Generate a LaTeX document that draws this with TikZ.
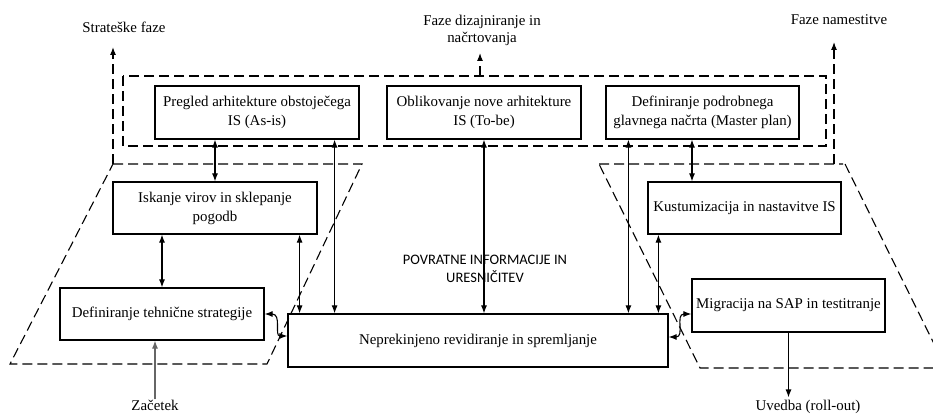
\documentclass[tikz,border=0pt]{standalone}
\usepackage{fontspec}
\setmainfont{Liberation Serif}
\newfontfamily\calib{Carlito}
\usetikzlibrary{arrows.meta}
\tikzset{
  box/.style={draw, line width=1.2pt, rectangle, align=center, inner sep=2pt,
    font=\fontsize{14.9}{19}\selectfont},
  lbl/.style={align=center, inner sep=1pt, font=\fontsize{14.9}{17}\selectfont},
  zone/.style={draw, line width=1.1pt, dash pattern=on 10pt off 5pt},
  conn/.style={line width=1.1pt, {Latex[length=8pt,width=6pt]}-{Latex[length=8pt,width=6pt]}},
  oneway/.style={line width=1.1pt, -{Latex[length=8pt,width=6pt]}},
  upway/.style={line width=1.1pt, dash pattern=on 10pt off 5pt, -{Latex[length=8pt,width=6pt]}}
}
\begin{document}
\begin{tikzpicture}[x=1pt,y=-1pt]
\useasboundingbox (0,0) rectangle (933,414);
% dashed zones
\draw[zone] (123,76) rectangle (826,146);
\draw[zone] (113,164) -- (362,164) -- (267,364) -- (10,364) -- cycle;
\begin{scope}
\clip (0,0) rectangle (933,414);
\draw[zone] (599,164) -- (843,164) (845,164) -- (946,368) -- (700,368) -- (599,164);
\end{scope}
% boxes
\node[box, minimum width=204pt, minimum height=53pt] (pregled) at (257,112.5) {Pregled arhitekture obstoječega\\IS (As-is)};
\node[box, minimum width=194pt, minimum height=53pt] (oblik) at (484,112.5) {Oblikovanje nove arhitekture\\IS (To-be)};
\node[box, minimum width=193pt, minimum height=53pt] (defpod) at (702.5,112.5) {Definiranje podrobnega\\glavnega načrta (Master plan)};
\node[box, minimum width=204pt, minimum height=52pt] (iskanje) at (215,208) {Iskanje virov in sklepanje\\pogodb};
\node[box, minimum width=204pt, minimum height=52pt] (deftech) at (162,314) {Definiranje tehnične strategije};
\node[box, minimum width=380pt, minimum height=53pt] (nep) at (478,340.5) {Neprekinjeno revidiranje in spremljanje};
\node[box, minimum width=193pt, minimum height=52pt] (kust) at (744.5,208) {Kustumizacija in nastavitve IS};
\node[box, minimum width=193pt, minimum height=53pt] (mig) at (788.5,305.5) {Migracija na SAP in testitranje};
% labels
\node[lbl] (strat) at (124,27) {Strateške faze};
\node[lbl] (dizaj) at (482,30) {Faze dizajniranje in\\načrtovanja};
\node[lbl] (namest) at (839,20) {Faze namestitve};
\node[lbl, anchor=base, inner sep=0pt] (zacetek) at (155,410) {Začetek};
\node[lbl, anchor=base, inner sep=0pt] (uvedba) at (808,410) {Uvedba (roll-out)};
\node[align=center, inner sep=0pt, font=\calib\fontsize{14.5}{17.5}\selectfont] (povr) at (485,269) {POVRATNE INFORMACIJE IN\\URESNIČITEV};
% phase arrows
\coordinate (stratS) at (113,164);
\coordinate (stratE) at (113,47);
\coordinate (dizajS) at (480,76);
\coordinate (dizajE) at (480,53);
\coordinate (namS) at (834,164);
\coordinate (namE) at (834,42);
\draw[upway] (stratS) -- (stratE);
\draw[upway] (dizajS) -- (dizajE);
\draw[upway] (namS) -- (namE);
% connectors
\draw[conn] (pregled.south -| iskanje.north) -- (iskanje.north);
\draw[conn] ([xshift=-25pt]pregled.south east) -- ([xshift=-25pt]pregled.south east |- nep.north);
\draw[conn] (iskanje.south -| deftech.north) -- (deftech.north);
\draw[conn] ([xshift=-18pt]iskanje.south east) -- ([xshift=-18pt]iskanje.south east |- nep.north);
\draw[conn] (oblik.south) -- (oblik.south |- nep.north);
\draw[conn] ([xshift=23pt]defpod.south west) -- ([xshift=23pt]defpod.south west |- nep.north);
\draw[conn] ([xshift=-10.5pt]defpod.south) -- ([xshift=-10.5pt]defpod.south |- kust.north);
\draw[conn] ([xshift=11pt]kust.south west) -- ([xshift=11pt]kust.south west |- nep.north);
\draw[oneway] (mig.south) -- ([yshift=2pt]mig.south |- uvedba.north);
\draw[oneway, draw=black!60, fill=black!60] (zacetek.north) -- (zacetek.north |- deftech.south);
% curved connectors
\draw[conn] (deftech.east) .. controls (282,314) and (274,336) .. ([yshift=4.5pt]nep.west);
\draw[conn] ([yshift=3.5pt]nep.east) .. controls (685,337) and (675,314) .. ([yshift=-8.5pt]mig.west);
\end{tikzpicture}
\end{document}
